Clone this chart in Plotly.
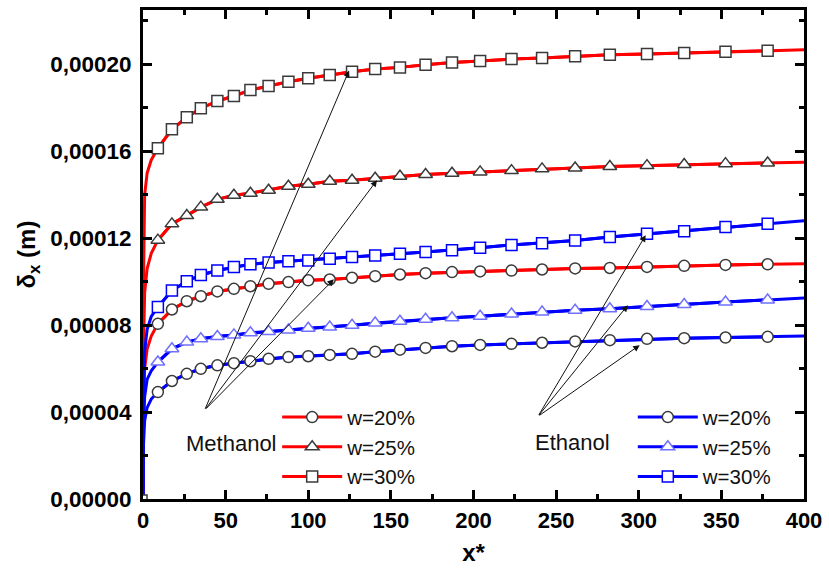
import plotly.graph_objects as go

# ---------------- data ----------------
marker_x = [9, 17.5, 26.5, 35, 45, 55, 65, 76, 88, 100, 113, 126.5, 140.5, 155.5,
            171, 187, 204, 223, 241.5, 261.5, 282.5, 305, 327.5, 352.5, 378]
early_x = [0, 0.3, 1, 2.5, 5]
end_x = [400]

meth20_early = [0, 4.5e-5, 6.0e-5, 6.9e-5, 7.5e-5]
meth20_mk = [8.06e-5, 8.72e-5, 9.10e-5, 9.33e-5, 9.55e-5, 9.67e-5, 9.79e-5, 9.90e-5, 9.98e-5,
             1.006e-4, 1.010e-4, 1.018e-4, 1.025e-4, 1.033e-4, 1.039e-4, 1.044e-4, 1.047e-4,
             1.051e-4, 1.056e-4, 1.061e-4, 1.063e-4, 1.068e-4, 1.073e-4, 1.077e-4, 1.080e-4]
meth20_end = [1.082e-4]

meth25_early = [0, 7.0e-5, 9.5e-5, 1.06e-4, 1.13e-4]
meth25_mk = [1.191e-4, 1.266e-4, 1.304e-4, 1.343e-4, 1.379e-4, 1.398e-4, 1.407e-4, 1.421e-4,
             1.439e-4, 1.448e-4, 1.462e-4, 1.467e-4, 1.476e-4, 1.485e-4, 1.493e-4, 1.499e-4,
             1.505e-4, 1.511e-4, 1.519e-4, 1.523e-4, 1.530e-4, 1.534e-4, 1.539e-4, 1.543e-4, 1.546e-4]
meth25_end = [1.550e-4]

meth30_early = [0, 1.0e-4, 1.4e-4, 1.5e-4, 1.56e-4]
meth30_mk = [1.614e-4, 1.701e-4, 1.756e-4, 1.798e-4, 1.831e-4, 1.854e-4, 1.882e-4, 1.900e-4,
             1.920e-4, 1.936e-4, 1.951e-4, 1.966e-4, 1.978e-4, 1.986e-4, 1.998e-4, 2.008e-4,
             2.015e-4, 2.024e-4, 2.029e-4, 2.037e-4, 2.044e-4, 2.047e-4, 2.052e-4, 2.058e-4, 2.063e-4]
meth30_end = [2.067e-4]

eth20_early = [0, 2.5e-5, 3.6e-5, 4.2e-5, 4.6e-5]
eth20_mk = [4.92e-5, 5.43e-5, 5.76e-5, 5.99e-5, 6.15e-5, 6.25e-5, 6.34e-5, 6.45e-5, 6.53e-5,
            6.57e-5, 6.63e-5, 6.68e-5, 6.78e-5, 6.87e-5, 6.95e-5, 7.03e-5, 7.09e-5, 7.14e-5,
            7.19e-5, 7.25e-5, 7.31e-5, 7.37e-5, 7.40e-5, 7.43e-5, 7.46e-5]
eth20_end = [7.50e-5]

eth25_early = [0, 3.3e-5, 4.7e-5, 5.5e-5, 5.9e-5]
eth25_mk = [6.30e-5, 6.91e-5, 7.22e-5, 7.37e-5, 7.48e-5, 7.55e-5, 7.65e-5, 7.71e-5, 7.78e-5,
            7.86e-5, 7.91e-5, 7.99e-5, 8.10e-5, 8.18e-5, 8.27e-5, 8.34e-5, 8.41e-5, 8.51e-5,
            8.60e-5, 8.68e-5, 8.75e-5, 8.86e-5, 8.95e-5, 9.06e-5, 9.16e-5]
eth25_end = [9.25e-5]

eth30_early = [0, 4.5e-5, 6.8e-5, 7.8e-5, 8.4e-5]
eth30_mk = [8.83e-5, 9.59e-5, 1.002e-4, 1.031e-4, 1.051e-4, 1.067e-4, 1.080e-4, 1.088e-4,
            1.094e-4, 1.097e-4, 1.105e-4, 1.113e-4, 1.120e-4, 1.128e-4, 1.136e-4, 1.145e-4,
            1.156e-4, 1.169e-4, 1.177e-4, 1.189e-4, 1.205e-4, 1.220e-4, 1.232e-4, 1.251e-4, 1.266e-4]
eth30_end = [1.280e-4]

legend_labels = ["w=20%", "w=25%", "w=30%"]

RED = "#ff0000"
BLUE = "#0000ff"
GREY = "#3a3a3a"
LBLUE = "#7070ff"

series = [
    # label, early, markers, end, color, symbol, marker-outline, legend
    (legend_labels[0], meth20_early, meth20_mk, meth20_end, RED, "circle", GREY, "legend"),
    (legend_labels[1], meth25_early, meth25_mk, meth25_end, RED, "triangle-up", GREY, "legend"),
    (legend_labels[2], meth30_early, meth30_mk, meth30_end, RED, "square", GREY, "legend"),
    (legend_labels[0], eth20_early, eth20_mk, eth20_end, BLUE, "circle", GREY, "legend2"),
    (legend_labels[1], eth25_early, eth25_mk, eth25_end, BLUE, "triangle-up", LBLUE, "legend2"),
    (legend_labels[2], eth30_early, eth30_mk, eth30_end, BLUE, "square", BLUE, "legend2"),
]

FONT = "Liberation Sans, Arial, sans-serif"

fig = go.Figure()

# full curves (no legend)
for name, e, m, en, col, sym, oc, lg in series:
    fig.add_trace(go.Scatter(
        x=early_x + marker_x + end_x, y=e + m + en, mode="lines",
        line=dict(color=col, width=3), showlegend=False, hoverinfo="skip"))

# marker traces (with legend)
for name, e, m, en, col, sym, oc, lg in series:
    fig.add_trace(go.Scatter(
        x=marker_x, y=m, mode="lines+markers", name=name, legend=lg,
        line=dict(color=col, width=3),
        marker=dict(symbol=sym, size=11 if sym != "triangle-up" else 12,
                    color="white", line=dict(color=oc, width=1.5))))

# origin marker
fig.add_trace(go.Scatter(
    x=[early_x[0]], y=[meth30_early[0]], mode="markers", showlegend=False,
    marker=dict(symbol="square", size=8, color="white", line=dict(color=GREY, width=1.5))))

# arrows
meth_origin = (37.3, 4.09e-5)
meth_targets = [(124.7, 1.972e-4), (141.6, 1.467e-4), (115.5, 1.011e-4)]
eth_origin = (239.0, 3.80e-5)
eth_targets = [(304.2, 1.214e-4), (293.4, 8.92e-5), (300.6, 7.08e-5)]

for origin, targets in ((meth_origin, meth_targets), (eth_origin, eth_targets)):
    for tx, ty in targets:
        fig.add_annotation(x=tx, y=ty, ax=origin[0], ay=origin[1], axref="x", ayref="y",
                           xref="x", yref="y", text="", showarrow=True,
                           arrowhead=2, arrowsize=1.3, arrowwidth=1, arrowcolor="#111111")

fig.add_annotation(x=53.6, y=2.57e-5, xref="x", yref="y", text="Methanol", showarrow=False,
                   font=dict(family=FONT, size=22, color="#111111"))
fig.add_annotation(x=260, y=2.62e-5, xref="x", yref="y", text="Ethanol", showarrow=False,
                   font=dict(family=FONT, size=22, color="#111111"))

legend_common = dict(
    bgcolor="rgba(0,0,0,0)", borderwidth=0, font=dict(family=FONT, size=20.5, color="#111111"),
    itemwidth=60, tracegroupgap=0, xanchor="left", yanchor="top", traceorder="normal")

fig.update_layout(
    width=829, height=577,
    margin=dict(l=143, r=22, t=7, b=78),
    paper_bgcolor="white", plot_bgcolor="white",
    separators=", ",
    font=dict(family=FONT, color="black"),
    legend=dict(x=0.203, y=0.208, **legend_common),
    legend2=dict(x=0.741, y=0.208, **legend_common),
    xaxis=dict(
        range=[0, 400], tickvals=[0, 50, 100, 150, 200, 250, 300, 350, 400],
        ticks="inside", ticklen=9, tickwidth=2.5, tickcolor="black",
        minor=dict(dtick=25, ticks="inside", ticklen=5, tickwidth=2.5, tickcolor="black"),
        showline=True, linecolor="black", linewidth=3, mirror="ticks",
        showgrid=False, zeroline=False,
        tickfont=dict(family=FONT, size=22, color="black", weight="bold"),
        title=dict(text="<b>x*</b>", font=dict(family=FONT, size=24, color="black"), standoff=12),
    ),
    yaxis=dict(
        range=[0, 0.000225], tickvals=[0, 0.00004, 0.00008, 0.00012, 0.00016, 0.00020],
        tickformat=".5f",
        ticks="inside", ticklen=9, tickwidth=2.5, tickcolor="black",
        minor=dict(dtick=0.00002, ticks="inside", ticklen=5, tickwidth=2.5, tickcolor="black"),
        showline=True, linecolor="black", linewidth=3, mirror="ticks",
        showgrid=False, zeroline=False, ticklabelstandoff=4,
        tickfont=dict(family=FONT, size=22.5, color="black", weight="bold"),
        title=dict(text="<b>δ<sub>x</sub> (m)</b>", font=dict(family=FONT, size=24, color="black"), standoff=8),
    ),
)

fig.write_html("out.html")
